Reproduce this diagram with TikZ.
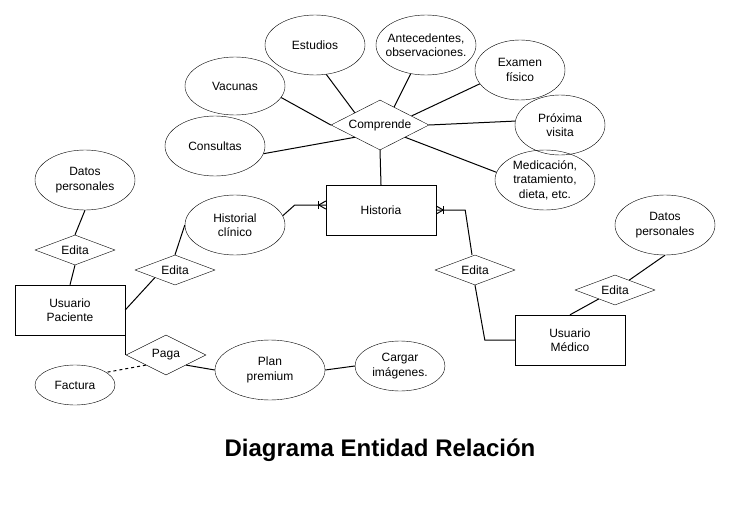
\documentclass[tikz,border=0pt]{standalone}
\usepackage{fontspec}
\setmainfont{Liberation Sans}
\usetikzlibrary{shapes.geometric,calc}
\begin{document}
\begin{tikzpicture}[x=1pt,y=-1pt,
  every node/.style={font=\fontsize{12}{14.5}\selectfont, align=center},
  ent/.style={draw, rectangle, minimum width=110pt, minimum height=50pt, inner sep=0pt},
  attr/.style={draw, ellipse, inner ysep=0pt, inner xsep=-12pt},
  rel/.style={draw, diamond, inner sep=0pt, shape aspect=2.67, minimum width=80pt, minimum height=30pt},
  conn/.style={line width=1pt, draw=black},
]
\useasboundingbox (0,0) rectangle (731,511);
% nodes
\node[attr, minimum width=100pt, minimum height=60pt] (est) at (315,45) {Estudios};
\node[attr, minimum width=100pt, minimum height=60pt] (ant) at (426,45) {Antecedentes,\\observaciones.};
\node[attr, minimum width=90pt, minimum height=60pt] (exa) at (520,70) {Examen\\físico};
\node[attr, minimum width=100pt, minimum height=58pt] (vac) at (235,86) {Vacunas};
\node[attr, minimum width=90pt, minimum height=60pt] (prox) at (560,125) {Próxima\\visita};
\node[attr, minimum width=100pt, minimum height=60pt] (cons) at (215,146) {Consultas};
\node[attr, minimum width=100pt, minimum height=60pt] (med) at (545,180) {Medicación,\\tratamiento,\\dieta, etc.};
\node[rel, shape aspect=1.96, minimum width=98pt, minimum height=50pt] (comp) at (380,125) {Comprende};
\node[ent] (hist) at (381,210) {Historia};
\node[attr, minimum width=100pt, minimum height=60pt] (hcl) at (235,225) {Historial\\clínico};
\node[attr, minimum width=100pt, minimum height=60pt] (dp1) at (85,180) {Datos\\personales};
\node[rel] (ed1) at (75,250) {Edita};
\node[ent] (up) at (70,310) {Usuario\\Paciente};
\node[rel] (ed2) at (175,270) {Edita};
\node[rel, shape aspect=2, minimum height=40pt] (paga) at (166,355) {Paga};
\node[attr, minimum width=80pt, minimum height=40pt] (fac) at (75,385) {Factura};
\node[attr, minimum width=110pt, minimum height=60pt] (plan) at (270,370) {Plan\\premium};
\node[attr, minimum width=90pt, minimum height=50pt] (carg) at (400,366) {Cargar\\imágenes.};
\node[attr, minimum width=100pt, minimum height=60pt] (dp2) at (665,225) {Datos\\personales};
\node[rel] (ed3) at (615,290) {Edita};
\node[rel] (ed4) at (475,270) {Edita};
\node[ent] (um) at (570,340) {Usuario\\Médico};
\node[font=\fontsize{24}{28}\selectfont\bfseries] (title) at (380,450) {Diagrama Entidad Relación};
% connectors around Comprende
\draw[conn] (comp.south) -- (hist.north);
\draw[conn] (est.-69) -- (comp.154);
\draw[conn] (ant.-118) -- (comp.52);
\draw[conn] (exa.-161) -- (comp.16);
\draw[conn] (vac.-14) -- (comp.west);
\draw[conn] (prox.175) -- (comp.east);
\draw[conn] (cons.-9) -- (comp.-154);
\draw[conn] (med.171) -- (comp.-26);
% Historial clinico -> Historia (one or many)
\draw[conn] (hcl.11) -- ($(hist.west)+(-31,-5)$) -- ($(hist.west)+(0,-5)$);
\draw[conn] ($(hist.west)+(-7,-9)$) -- ($(hist.west)+(-7,-1)$);
\draw[conn] ($(hist.west)+(0,-9)$) -- ($(hist.west)+(-7,-5)$) -- ($(hist.west)+(0,-1)$);
% Historia -> Edita (medico)
\draw[conn] (hist.east) -- ($(hist.east)+(29,0)$) -- ($(ed4.north)+(-3,0)$);
\draw[conn] ($(hist.east)+(7,-4)$) -- ($(hist.east)+(7,4)$);
\draw[conn] ($(hist.east)+(0,-4)$) -- ($(hist.east)+(7,0)$) -- ($(hist.east)+(0,4)$);
\draw[conn] (ed4.south) -- ($(um.west)+(-30,0)$) -- (um.west);
% Usuario Medico -> Edita -> Datos personales
\draw[conn] (um.north) -- (ed3);
\draw[conn] (ed3) -- (dp2.south);
% Usuario Paciente side
\draw[conn] (dp1.south) -- (ed1.north);
\draw[conn] (ed1.south) -- (up.north);
\draw[conn] (up.east) -- ($(ed2.west)!0.5!(ed2.south)$);
\draw[conn] (ed2.north) -- (hcl.west);
\draw[conn] (up.south east) -- (up.south east |- paga.west);
\draw[conn, dash pattern=on 3pt off 3pt] ($(paga.west)!0.5!(paga.south)$) -- (fac.22);
\draw[conn] ($(paga.south)!0.5!(paga.east)$) -- (plan.west);
\draw[conn] (plan.east) -- (carg.west);
\end{tikzpicture}
\end{document}
